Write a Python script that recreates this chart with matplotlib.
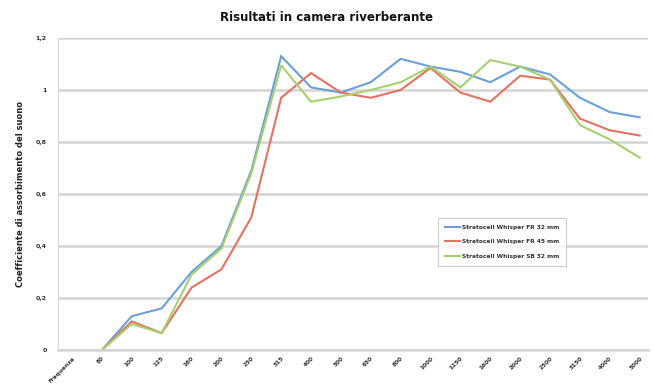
import matplotlib
matplotlib.use("Agg")
import matplotlib.pyplot as plt
import numpy as np

# Categories on the x axis: a header slot followed by third-octave bands (Hz)
categories = ["Frequenza", "80", "100", "125", "160", "200", "250", "315", "400", "500",
              "630", "800", "1000", "1250", "1600", "2000", "2500", "3150", "4000", "5000"]

fr_32 = [0.00, 0.13, 0.16, 0.30, 0.40, 0.69, 1.13, 1.01, 0.99, 1.03,
         1.12, 1.09, 1.07, 1.03, 1.09, 1.06, 0.97, 0.915, 0.895]
fr_45 = [0.00, 0.11, 0.065, 0.24, 0.31, 0.51, 0.97, 1.065, 0.99, 0.97,
         1.00, 1.085, 0.99, 0.955, 1.055, 1.04, 0.89, 0.845, 0.825]
sb_32 = [0.00, 0.10, 0.065, 0.29, 0.39, 0.68, 1.095, 0.955, 0.975, 1.00,
         1.03, 1.09, 1.01, 1.115, 1.09, 1.04, 0.865, 0.81, 0.74]

series_names = ["Stratocell Whisper FR 32 mm",
                "Stratocell Whisper FR 45 mm",
                "Stratocell Whisper SB 32 mm"]
series_colors = ["#6a9fd8", "#e4725f", "#a6d06e"]

yticks = [0, 0.2, 0.4, 0.6, 0.8, 1.0, 1.2]
ytick_labels = ["0", "0,2", "0,4", "0,6", "0,8", "1", "1,2"]

fig = plt.figure(figsize=(6.52, 3.85), dpi=100)
ax = fig.add_axes([58 / 652, 35 / 385, 590 / 652, 312 / 385])

x_data = np.arange(1, len(categories))
for vals, name, col in zip([fr_32, fr_45, sb_32], series_names, series_colors):
    ax.plot(x_data, vals, color=col, lw=1.5, label=name, solid_joinstyle="miter")

ax.set_ylim(0, 1.2)
ax.set_xlim(-0.47, len(categories) - 0.72)
ax.set_yticks(yticks)
ax.set_yticklabels(ytick_labels, fontsize=4.5, color="#333333", fontweight="bold")
ax.set_xticks(np.arange(len(categories)))
ax.set_xticklabels(categories, rotation=45, ha="right", rotation_mode="anchor",
                   fontsize=4.2, color="#333333", fontweight="bold")
ax.tick_params(axis="y", length=0, pad=8)
ax.tick_params(axis="x", length=0, pad=4)

ax.grid(axis="y", color="#d4d4d4", lw=1.8)
ax.set_axisbelow(True)
for side in ["top", "right"]:
    ax.spines[side].set_visible(False)
ax.spines["left"].set_color("#d9d9d9")
ax.spines["bottom"].set_color("#d4d4d4")
ax.spines["bottom"].set_linewidth(1.8)

ax.set_ylabel("Coefficiente di assorbimento del suono", fontsize=6,
              fontweight="bold", color="#222222", labelpad=8)
fig.text(0.5, 0.955, "Risultati in camera riverberante", ha="center", va="center",
         fontsize=8.5, fontweight="bold", color="#111111")

leg = ax.legend(loc="upper left", bbox_to_anchor=(377 / 590, (350 - 215) / 312),
                fontsize=4.2, frameon=True, fancybox=False, edgecolor="#bfbfbf",
                handlelength=2.5, labelspacing=1.6, borderpad=1.2, handletextpad=0.4)
leg.get_frame().set_linewidth(0.8)
for t in leg.get_texts():
    t.set_fontweight("bold")
    t.set_color("#333333")

fig.savefig("out.png", dpi=100)
